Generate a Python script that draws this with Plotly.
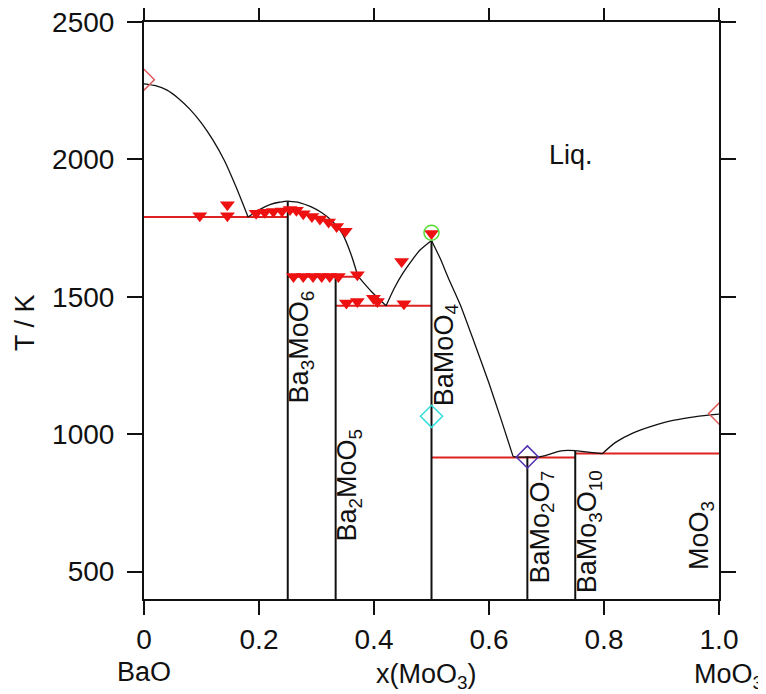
import plotly.graph_objects as go

# ---------------- data ----------------
# liquidus branches (x(MoO3), T/K)
liq_bao_x = [0.0, 0.02, 0.04, 0.06, 0.08, 0.10, 0.12, 0.14, 0.16, 0.181]
liq_bao_t = [2275, 2268, 2252, 2222, 2182, 2132, 2070, 1995, 1900, 1790]
liq_b3m_l_x = [0.181, 0.20, 0.22, 0.235, 0.25]
liq_b3m_l_t = [1790, 1816, 1836, 1844, 1848]
liq_b3m_r_x = [0.25, 0.27, 0.29, 0.31, 0.33, 0.345, 0.36, 0.372]
liq_b3m_r_t = [1848, 1843, 1828, 1805, 1770, 1730, 1655, 1575]
liq_b2m_x = [0.372, 0.395, 0.421]
liq_b2m_t = [1575, 1520, 1467]
liq_bm_l_x = [0.421, 0.435, 0.45, 0.465, 0.48, 0.5]
liq_bm_l_t = [1467, 1530, 1585, 1630, 1670, 1705]
liq_bm_r_x = [0.5, 0.515, 0.53, 0.55, 0.575, 0.60, 0.62, 0.642]
liq_bm_r_t = [1705, 1640, 1565, 1471, 1330, 1185, 1060, 918]
liq_bm2_x = [0.642, 0.655, 0.667, 0.68, 0.694, 0.71, 0.723, 0.737, 0.75]
liq_bm2_t = [918, 916, 917, 916, 920, 930, 938, 941, 940]
liq_bm3_x = [0.75, 0.776, 0.797]
liq_bm3_t = [940, 934, 929]
liq_moo3_x = [0.797, 0.82, 0.85, 0.885, 0.92, 0.96, 1.0]
liq_moo3_t = [929, 970, 1004, 1030, 1050, 1064, 1073]

# invariant (red) lines: x start, x end, T
inv_x0 = [0.0, 0.25, 0.3333, 0.5, 0.75]
inv_x1 = [0.25, 0.372, 0.5, 0.75, 1.0]
inv_t = [1790, 1573, 1467, 915, 930]

# compounds (vertical lines): x, top T
comp_x = [0.25, 0.3333, 0.5, 0.6667, 0.75]
comp_top = [1848, 1573, 1705, 917, 940]
t_bottom = 400

# experimental points (red down triangles)
exp_x = [0.097, 0.145, 0.145, 0.195, 0.21, 0.225, 0.240, 0.254, 0.265, 0.277,
         0.292, 0.306, 0.321, 0.335, 0.350,
         0.260, 0.277, 0.294, 0.309, 0.323, 0.338, 0.371,
         0.352, 0.371, 0.399, 0.406, 0.452, 0.448, 0.5]
exp_t = [1795, 1835, 1795, 1804, 1808, 1810, 1812, 1818, 1815, 1802,
         1792, 1783, 1772, 1756, 1738,
         1574, 1574, 1574, 1574, 1574, 1574, 1580,
         1477, 1483, 1495, 1483, 1475, 1628, 1730]

# other symbols
pure_x = [0.0, 1.0]
pure_t = [2290, 1075]
bm_circle_x = [0.5]
bm_circle_t = [1733]
bm_cyan_x = [0.5]
bm_cyan_t = [1065]
bm2_dia_x = [0.6667]
bm2_dia_t = [917]

# labels
lab_text = ["BaO", "Ba<sub>3</sub>MoO<sub>6</sub>", "Ba<sub>2</sub>MoO<sub>5</sub>",
            "BaMoO<sub>4</sub>", "BaMo<sub>2</sub>O<sub>7</sub>",
            "BaMo<sub>3</sub>O<sub>10</sub>", "MoO<sub>3</sub>"]
lab_x = [-0.007, 0.242, 0.326, 0.493, 0.66, 0.743, 1.0]
lab_t = [1191, 1107, 605, 1100, 453, 416, 500]
lab_anchor = ["left", "left", "left", "left", "left", "left", "right"]

x_tickvals = [0, 0.2, 0.4, 0.6, 0.8, 1.0]
x_ticktext = ["0", "0.2", "0.4", "0.6", "0.8", "1.0"]
y_tickvals = [500, 1000, 1500, 2000, 2500]

# ---------------- figure ----------------
fig = go.Figure()
BLACK = "#111111"
RED = "#dd2222"

def add_line(x, y, color=BLACK, width=1.3, shape="spline"):
    fig.add_trace(go.Scatter(x=x, y=y, mode="lines",
                             line=dict(color=color, width=width, shape=shape, smoothing=0.6),
                             showlegend=False, hoverinfo="skip"))

for x0, x1, t in zip(inv_x0, inv_x1, inv_t):
    add_line([x0, x1], [t, t], color=RED, width=2, shape="linear")

for cx, ct in zip(comp_x, comp_top):
    add_line([cx, cx], [t_bottom, ct], color=BLACK, width=2, shape="linear")

for bx, bt in [(liq_bao_x, liq_bao_t), (liq_b3m_l_x, liq_b3m_l_t), (liq_b3m_r_x, liq_b3m_r_t),
               (liq_b2m_x, liq_b2m_t), (liq_bm_l_x, liq_bm_l_t), (liq_bm_r_x, liq_bm_r_t),
               (liq_bm2_x, liq_bm2_t), (liq_bm3_x, liq_bm3_t), (liq_moo3_x, liq_moo3_t)]:
    add_line(bx, bt)

fig.add_trace(go.Scatter(x=exp_x, y=exp_t, mode="markers", cliponaxis=True,
                         marker=dict(symbol="triangle-down", size=13, color="#ee1111",
                                     line=dict(width=0)),
                         showlegend=False, hoverinfo="skip"))
fig.add_trace(go.Scatter(x=pure_x, y=pure_t, mode="markers", cliponaxis=True,
                         marker=dict(symbol="diamond-open", size=16, color="#e05a5a",
                                     line=dict(width=1.5)),
                         showlegend=False, hoverinfo="skip"))
fig.add_trace(go.Scatter(x=bm_circle_x, y=bm_circle_t, mode="markers",
                         marker=dict(symbol="circle-open", size=15, color="#55dd33",
                                     line=dict(width=1.5)),
                         showlegend=False, hoverinfo="skip"))
fig.add_trace(go.Scatter(x=bm_cyan_x, y=bm_cyan_t, mode="markers",
                         marker=dict(symbol="diamond-open", size=17, color="#33dddd",
                                     line=dict(width=1.5)),
                         showlegend=False, hoverinfo="skip"))
fig.add_trace(go.Scatter(x=bm2_dia_x, y=bm2_dia_t, mode="markers",
                         marker=dict(symbol="diamond-open", size=17, color="#5030b0",
                                     line=dict(width=1.5)),
                         showlegend=False, hoverinfo="skip"))

FONT = "Arial, Liberation Sans, sans-serif"
LABEL_FONT = dict(family=FONT, size=27, color=BLACK)

annotations = []
for txt, lx, lt, anc in zip(lab_text, lab_x, lab_t, lab_anchor):
    annotations.append(dict(x=lx, y=lt, xref="x", yref="y", text=txt, showarrow=False,
                            textangle=-90, xanchor=anc, yanchor="bottom",
                            font=LABEL_FONT, borderpad=0))
annotations.append(dict(x=0.70, y=2016, xref="x", yref="y", text="Liq.", showarrow=False,
                        xanchor="left", yanchor="middle", font=LABEL_FONT))
annotations.append(dict(x=0.0, y=-0.127, xref="paper", yref="paper", text="BaO",
                        showarrow=False, xanchor="center", yanchor="middle", font=LABEL_FONT))
annotations.append(dict(x=0.492, y=-0.133, xref="paper", yref="paper", text="x(MoO<sub>3</sub>)",
                        showarrow=False, xanchor="center", yanchor="middle", font=LABEL_FONT))
annotations.append(dict(x=1.016, y=-0.133, xref="paper", yref="paper", text="MoO<sub>3</sub>",
                        showarrow=False, xanchor="center", yanchor="middle", font=LABEL_FONT))
annotations.append(dict(x=-0.207, y=0.48, xref="paper", yref="paper", text="T / K",
                        showarrow=False, textangle=-90, xanchor="center", yanchor="middle",
                        font=LABEL_FONT))

fig.update_layout(
    width=766, height=694,
    margin=dict(l=136, r=55, t=14, b=103, pad=0),
    paper_bgcolor="white", plot_bgcolor="white",
    showlegend=False,
    annotations=annotations,
    xaxis=dict(range=[0, 1], tickvals=x_tickvals, ticktext=x_ticktext, automargin=False,
               showline=True, linecolor=BLACK, linewidth=2, mirror="ticks",
               ticks="outside", ticklen=14, tickwidth=2, tickcolor=BLACK,
               showgrid=False, zeroline=False, ticklabelstandoff=0,
               ticklabeloverflow="allow",
               tickfont=dict(family=FONT, size=28, color=BLACK)),
    yaxis=dict(range=[t_bottom, 2500], tickvals=y_tickvals, automargin=False,
               showline=True, linecolor=BLACK, linewidth=2, mirror="ticks",
               ticks="outside", ticklen=15, tickwidth=2, tickcolor=BLACK,
               showgrid=False, zeroline=False, ticklabelstandoff=7,
               ticklabeloverflow="allow",
               tickfont=dict(family=FONT, size=28, color=BLACK)),
)

fig.write_html("out.html")
